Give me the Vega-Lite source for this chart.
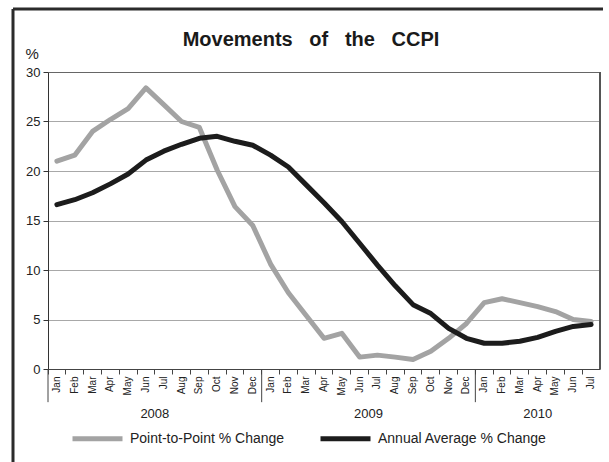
{
  "$schema": "https://vega.github.io/schema/vega-lite/v6.json",
  "width": 600,
  "height": 460,
  "autosize": {"type": "none"},
  "padding": {"left": 13, "top": 9, "right": -10, "bottom": -7},
  "background": "white",
  "config": {
    "font": "Liberation Sans",
    "view": {"stroke": "#2b2b2b", "strokeWidth": 3, "strokeDash": [600, 1060, 460, 0]}
  },
  "title": {
    "text": "Movements\u00a0\u00a0\u00a0of\u00a0\u00a0\u00a0the\u00a0\u00a0\u00a0CCPI",
    "frame": "group",
    "anchor": "middle",
    "baseline": "alphabetic",
    "offset": 0,
    "dy": 57,
    "dx": -2,
    "fontSize": 20,
    "fontWeight": "bold",
    "color": "#1a1a1a",
    "font": "Liberation Sans"
  },
  "datasets": {
    "ccpi": [
      {"month": "Jan 2008", "Point-to-Point % Change": 21.0, "Annual Average % Change": 16.6},
      {"month": "Feb 2008", "Point-to-Point % Change": 21.6, "Annual Average % Change": 17.1},
      {"month": "Mar 2008", "Point-to-Point % Change": 24.0, "Annual Average % Change": 17.8},
      {"month": "Apr 2008", "Point-to-Point % Change": 25.2, "Annual Average % Change": 18.7},
      {"month": "May 2008", "Point-to-Point % Change": 26.3, "Annual Average % Change": 19.7},
      {"month": "Jun 2008", "Point-to-Point % Change": 28.4, "Annual Average % Change": 21.1},
      {"month": "Jul 2008", "Point-to-Point % Change": 26.7, "Annual Average % Change": 22.0},
      {"month": "Aug 2008", "Point-to-Point % Change": 25.0, "Annual Average % Change": 22.7},
      {"month": "Sep 2008", "Point-to-Point % Change": 24.4, "Annual Average % Change": 23.3},
      {"month": "Oct 2008", "Point-to-Point % Change": 20.1, "Annual Average % Change": 23.5},
      {"month": "Nov 2008", "Point-to-Point % Change": 16.4, "Annual Average % Change": 23.0},
      {"month": "Dec 2008", "Point-to-Point % Change": 14.5, "Annual Average % Change": 22.6},
      {"month": "Jan 2009", "Point-to-Point % Change": 10.6, "Annual Average % Change": 21.6},
      {"month": "Feb 2009", "Point-to-Point % Change": 7.7, "Annual Average % Change": 20.4},
      {"month": "Mar 2009", "Point-to-Point % Change": 5.4, "Annual Average % Change": 18.6},
      {"month": "Apr 2009", "Point-to-Point % Change": 3.1, "Annual Average % Change": 16.8},
      {"month": "May 2009", "Point-to-Point % Change": 3.6, "Annual Average % Change": 14.9},
      {"month": "Jun 2009", "Point-to-Point % Change": 1.2, "Annual Average % Change": 12.7},
      {"month": "Jul 2009", "Point-to-Point % Change": 1.4, "Annual Average % Change": 10.5},
      {"month": "Aug 2009", "Point-to-Point % Change": 1.2, "Annual Average % Change": 8.4},
      {"month": "Sep 2009", "Point-to-Point % Change": 0.95, "Annual Average % Change": 6.5},
      {"month": "Oct 2009", "Point-to-Point % Change": 1.8, "Annual Average % Change": 5.6},
      {"month": "Nov 2009", "Point-to-Point % Change": 3.1, "Annual Average % Change": 4.1},
      {"month": "Dec 2009", "Point-to-Point % Change": 4.6, "Annual Average % Change": 3.1},
      {"month": "Jan 2010", "Point-to-Point % Change": 6.7, "Annual Average % Change": 2.6},
      {"month": "Feb 2010", "Point-to-Point % Change": 7.1, "Annual Average % Change": 2.6},
      {"month": "Mar 2010", "Point-to-Point % Change": 6.7, "Annual Average % Change": 2.8},
      {"month": "Apr 2010", "Point-to-Point % Change": 6.3, "Annual Average % Change": 3.2},
      {"month": "May 2010", "Point-to-Point % Change": 5.8, "Annual Average % Change": 3.8},
      {"month": "Jun 2010", "Point-to-Point % Change": 5.0, "Annual Average % Change": 4.3},
      {"month": "Jul 2010", "Point-to-Point % Change": 4.8, "Annual Average % Change": 4.5}
    ]
  },
  "layer": [
    {
      "data": {"name": "ccpi"},
      "transform": [
        {"fold": ["Point-to-Point % Change", "Annual Average % Change"], "as": ["series", "value"]}
      ],
      "mark": {"type": "line", "strokeWidth": 5, "strokeJoin": "round", "strokeCap": "round"},
      "encoding": {
        "x": {
          "field": "month",
          "type": "ordinal",
          "bandPosition": 0.5,
          "scale": {
            "type": "band",
            "paddingInner": 0,
            "paddingOuter": 0,
            "range": [35, 587],
            "domain": ["Jan 2008","Feb 2008","Mar 2008","Apr 2008","May 2008","Jun 2008","Jul 2008","Aug 2008","Sep 2008","Oct 2008","Nov 2008","Dec 2008","Jan 2009","Feb 2009","Mar 2009","Apr 2009","May 2009","Jun 2009","Jul 2009","Aug 2009","Sep 2009","Oct 2009","Nov 2009","Dec 2009","Jan 2010","Feb 2010","Mar 2010","Apr 2010","May 2010","Jun 2010","Jul 2010"]
          },
          "axis": {
            "title": null,
            "orient": "bottom",
            "offset": -100,
            "bandPosition": 0,
            "labelAngle": -90,
            "labelAlign": "right",
            "labelBaseline": "middle",
            "labelExpr": "split(datum.value, ' ')[0]",
            "labelFontSize": 10,
            "labelColor": "#222222",
            "labelPadding": 2,
            "labelOverlap": false,
            "tickSize": 5,
            "tickColor": "#444444",
            "domainColor": "#444444",
            "grid": false
          }
        },
        "y": {
          "field": "value",
          "type": "quantitative",
          "scale": {"domain": [0, 30], "range": [360, 63], "nice": false},
          "axis": {
            "title": "%",
            "titleAngle": 0,
            "titleAlign": "left",
            "titleBaseline": "alphabetic",
            "titleX": -23,
            "titleY": 49,
            "titleFontSize": 15,
            "titleFontWeight": "normal",
            "titleColor": "#222222",
            "offset": -35,
            "values": [0, 5, 10, 15, 20, 25, 30],
            "tickSize": 5,
            "tickColor": "#333333",
            "domainColor": "#333333",
            "labelPadding": 3,
            "labelFontSize": 13,
            "labelColor": "#222222",
            "gridColor": {"condition": {"test": "datum.value == 30", "value": "#666666"}, "value": "#a8a8a8"},
            "gridWidth": 1.2
          }
        },
        "color": {
          "field": "series",
          "type": "nominal",
          "scale": {
            "domain": ["Point-to-Point % Change", "Annual Average % Change"],
            "range": ["#a3a3a3", "#1c1c1c"]
          },
          "legend": {
            "title": null,
            "orient": "none",
            "legendX": 57,
            "legendY": 402,
            "direction": "horizontal",
            "symbolType": "stroke",
            "symbolSize": 2500,
            "symbolStrokeWidth": 5,
            "labelFontSize": 14,
            "labelColor": "#222222",
            "labelOffset": 5,
            "columnPadding": 25,
            "padding": 0,
            "labelLimit": 300
          }
        }
      }
    },
    {
      "data": {"values": [{"month": "Jan 2008"}, {"month": "Jan 2009"}, {"month": "Jan 2010"}]},
      "mark": {"type": "rule", "color": "#444444", "strokeWidth": 1},
      "encoding": {
        "x": {"field": "month", "type": "ordinal", "bandPosition": 0},
        "y": {"datum": 0, "type": "quantitative"},
        "y2": {"datum": -3.35}
      }
    },
    {
      "data": {"values": [{"month": "Jul 2010"}]},
      "mark": {"type": "rule", "color": "#555555", "strokeWidth": 2},
      "encoding": {
        "x": {"field": "month", "type": "ordinal", "bandPosition": 1},
        "y": {"datum": 0, "type": "quantitative"},
        "y2": {"datum": 30}
      }
    },
    {
      "data": {"values": [{"month": "Jul 2008", "year": "2008"}, {"month": "Jul 2009", "year": "2009"}]},
      "mark": {"type": "text", "fontSize": 13, "baseline": "alphabetic", "align": "center", "color": "#222222"},
      "encoding": {
        "x": {"field": "month", "type": "ordinal", "bandPosition": 0},
        "y": {"datum": -4.95, "type": "quantitative"},
        "text": {"field": "year"}
      }
    },
    {
      "data": {"values": [{"month": "Apr 2010", "year": "2010"}]},
      "mark": {"type": "text", "fontSize": 13, "baseline": "alphabetic", "align": "center", "color": "#222222"},
      "encoding": {
        "x": {"field": "month", "type": "ordinal", "bandPosition": 0.5},
        "y": {"datum": -4.95, "type": "quantitative"},
        "text": {"field": "year"}
      }
    }
  ]
}
